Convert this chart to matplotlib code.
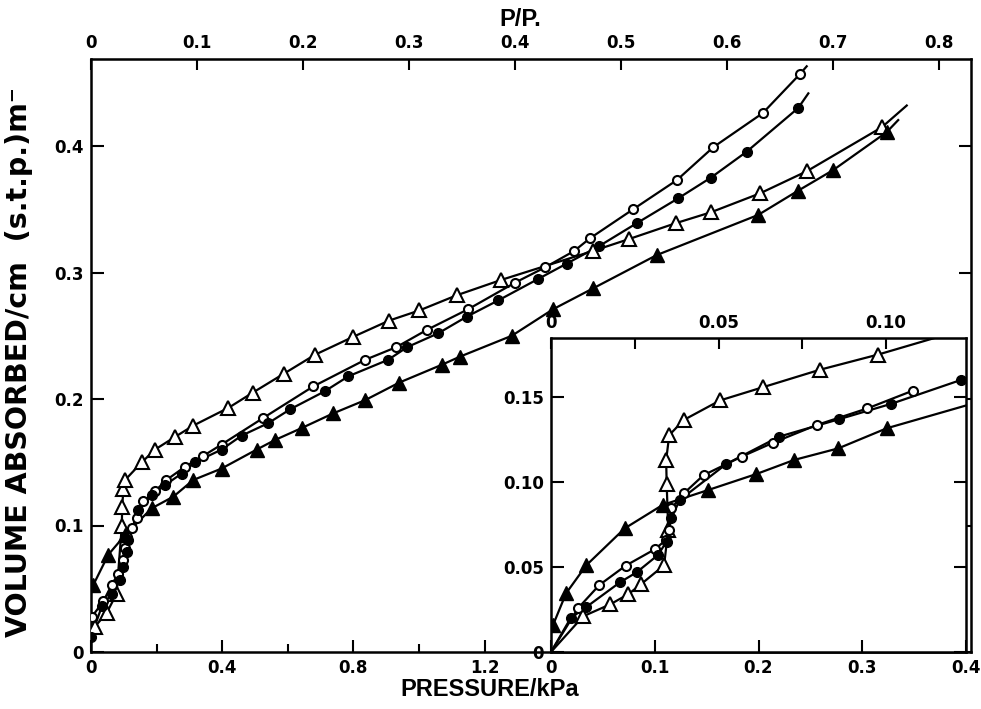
import matplotlib
matplotlib.use("Agg")
import matplotlib.pyplot as plt
from matplotlib import font_manager

names = {f.name for f in font_manager.fontManager.ttflist}
LABEL_FAMILY = ['Liberation Sans Narrow'] if 'Liberation Sans Narrow' in names else ['Liberation Sans']
LABEL_FAMILY = LABEL_FAMILY + ['DejaVu Sans']
plt.rcParams['font.family'] = ['DejaVu Sans']
plt.rcParams['font.weight'] = 'bold'

P0 = 3.23  # kPa, saturation pressure used for P/P0 axis

# ---------------- main plot data (pressure kPa, volume) ----------------
otri_p = [0.012, 0.048, 0.078, 0.094, 0.095, 0.099, 0.104, 0.155, 0.195, 0.256, 0.312, 0.419,
          0.493, 0.588, 0.683, 0.798, 0.909, 1.001, 1.115, 1.249, 1.530, 1.641, 1.783, 1.890,
          2.040, 2.182, 2.411]
otri_v = [0.020, 0.031, 0.046, 0.100, 0.115, 0.129, 0.136, 0.150, 0.160, 0.170, 0.179, 0.193,
          0.205, 0.220, 0.235, 0.249, 0.262, 0.270, 0.282, 0.294, 0.317, 0.3265, 0.339, 0.3476,
          0.3626, 0.380, 0.4148]
otri_tail = (2.487, 0.432)

ocir_p = [0.003, 0.0375, 0.063, 0.083, 0.0985, 0.104, 0.109, 0.124, 0.139, 0.160, 0.195, 0.230,
          0.287, 0.342, 0.398, 0.525, 0.678, 0.836, 0.931, 1.023, 1.150, 1.293, 1.384, 1.473,
          1.521, 1.653, 1.786, 1.897, 2.048, 2.162]
ocir_v = [0.028, 0.040, 0.053, 0.062, 0.073, 0.082, 0.091, 0.098, 0.106, 0.119, 0.127, 0.136,
          0.1465, 0.155, 0.164, 0.185, 0.210, 0.231, 0.241, 0.2545, 0.271, 0.292, 0.304, 0.317,
          0.327, 0.350, 0.373, 0.399, 0.426, 0.457]
ocir_tail = (2.182, 0.463)

fcir_p = [0.000, 0.033, 0.063, 0.088, 0.0985, 0.109, 0.114, 0.144, 0.185, 0.226, 0.276, 0.317,
          0.398, 0.459, 0.541, 0.608, 0.712, 0.785, 0.906, 0.964, 1.059, 1.145, 1.242, 1.364,
          1.450, 1.550, 1.664, 1.790, 1.890, 1.999, 2.156]
fcir_v = [0.012, 0.036, 0.046, 0.057, 0.0675, 0.079, 0.0885, 0.112, 0.124, 0.132, 0.141, 0.150,
          0.160, 0.171, 0.181, 0.192, 0.206, 0.218, 0.231, 0.241, 0.252, 0.265, 0.278, 0.295,
          0.307, 0.321, 0.339, 0.3586, 0.375, 0.3955, 0.430]
fcir_tail = (2.187, 0.4416)

ftri_p = [0.007, 0.053, 0.104, 0.185, 0.251, 0.312, 0.398, 0.505, 0.561, 0.642, 0.739, 0.835,
          0.940, 1.069, 1.125, 1.283, 1.409, 1.531, 1.725, 2.034, 2.156, 2.263, 2.426]
ftri_v = [0.053, 0.077, 0.0925, 0.1136, 0.1228, 0.136, 0.145, 0.160, 0.1676, 0.177, 0.1887, 0.199,
          0.213, 0.227, 0.2335, 0.250, 0.271, 0.2875, 0.3138, 0.3455, 0.3647, 0.381, 0.411]
ftri_tail = (2.461, 0.4205)

# ---------------- inset data (pressure kPa, volume) ----------------
in_otri_p = [0.031, 0.057, 0.0745, 0.087, 0.109, 0.113, 0.1115, 0.111, 0.114, 0.128, 0.163,
             0.204, 0.259, 0.3155]
in_otri_v = [0.021, 0.028, 0.034, 0.040, 0.051, 0.072, 0.0987, 0.113, 0.1276, 0.1365, 0.148,
             0.1557, 0.166, 0.175]
in_otri_tail = (0.3685, 0.1845)

in_ocir_p = [0.026, 0.0466, 0.072, 0.100, 0.111, 0.114, 0.116, 0.128, 0.147, 0.184, 0.2137,
             0.256, 0.305, 0.3486]
in_ocir_v = [0.0257, 0.0394, 0.0508, 0.0604, 0.066, 0.0718, 0.0845, 0.0933, 0.104, 0.115, 0.123,
             0.1335, 0.1433, 0.1537]

in_fcir_p = [0.019, 0.0337, 0.0665, 0.0826, 0.103, 0.1115, 0.116, 0.124, 0.169, 0.220, 0.278,
             0.328, 0.395]
in_fcir_v = [0.020, 0.0263, 0.041, 0.0469, 0.057, 0.065, 0.0786, 0.0894, 0.1106, 0.1267, 0.137,
             0.146, 0.160]

in_ftri_p = [0.002, 0.0145, 0.034, 0.071, 0.1076, 0.1516, 0.198, 0.2345, 0.277, 0.3236]
in_ftri_v = [0.0159, 0.0345, 0.051, 0.0727, 0.0865, 0.0953, 0.1047, 0.113, 0.1198, 0.1316]
in_ftri_tail = (0.400, 0.145)

# ---------------- tick labels ----------------
main_xticks = [0, 0.4, 0.8, 1.2]
main_xlabels = ['0', '0.4', '0.8', '1.2']
main_yticks = [0, 0.1, 0.2, 0.3, 0.4]
main_ylabels = ['0', '0.1', '0.2', '0.3', '0.4']
top_ticks = [0, 0.1, 0.2, 0.3, 0.4, 0.5, 0.6, 0.7, 0.8]
top_labels = ['0', '0.1', '0.2', '0.3', '0.4', '0.5', '0.6', '0.7', '0.8']
in_xticks = [0, 0.1, 0.2, 0.3, 0.4]
in_xlabels = ['0', '0.1', '0.2', '0.3', '0.4']
in_yticks = [0, 0.05, 0.10, 0.15]
in_ylabels = ['0', '0.05', '0.10', '0.15']
in_top_ticks = [0, 0.025, 0.05, 0.075, 0.10]
in_top_labels = ['0', '', '0.05', '', '0.10']

W, H = 981, 709
fig = plt.figure(figsize=(W / 100, H / 100), dpi=100)

LW = 1.6
SPW = 1.8
FS = 12

styles = {
    'otri': dict(marker='^', mfc='white', mec='black', ms=9.5, mew=1.5),
    'ocir': dict(marker='o', mfc='white', mec='black', ms=6.5, mew=1.5),
    'fcir': dict(marker='o', mfc='black', mec='black', ms=7, mew=1.0),
    'ftri': dict(marker='^', mfc='black', mec='black', ms=9.5, mew=1.0),
}


def draw(ax, p, v, key, tail=None, start_origin=False):
    lp, lv = list(p), list(v)
    if start_origin:
        lp = [0.0] + lp
        lv = [0.0] + lv
    if tail is not None:
        lp = lp + [tail[0]]
        lv = lv + [tail[1]]
    ax.plot(lp, lv, color='black', lw=LW, zorder=2)
    ax.plot(p, v, ls='none', zorder=3, **styles[key])


# ---------------- main axes ----------------
ax = fig.add_axes([91 / W, 1 - 652 / H, (971 - 91) / W, (652 - 59) / H])
draw(ax, otri_p, otri_v, 'otri', otri_tail)
draw(ax, ocir_p, ocir_v, 'ocir', ocir_tail)
draw(ax, fcir_p, fcir_v, 'fcir', fcir_tail)
draw(ax, ftri_p, ftri_v, 'ftri', ftri_tail)
ax.set_xlim(0, 880 / 328)
ax.set_ylim(0, 593 / 1265)
ax.set_xticks(main_xticks)
ax.set_xticklabels(main_xlabels)
ax.set_xticks([0.2, 0.6, 1.0], minor=True)
ax.set_yticks(main_yticks)
ax.set_yticklabels(main_ylabels)
ax.tick_params(axis='both', which='major', direction='in', length=9, width=1.5,
               labelsize=FS, pad=5)
ax.tick_params(axis='x', which='minor', direction='in', length=6, width=1.5)
ax.tick_params(axis='y', right=True)
for s in ax.spines.values():
    s.set_linewidth(SPW)

top = ax.secondary_xaxis('top', functions=(lambda p: p / P0, lambda r: r * P0))
top.set_xticks(top_ticks)
top.set_xticklabels(top_labels)
top.tick_params(direction='in', length=8, width=1.5, labelsize=FS, pad=5)

# axis titles
fig.text(490 / W, 1 - 690 / H, 'PRESSURE/kPa', ha='center', va='center',
         fontsize=17, fontweight='bold', family=LABEL_FAMILY)
fig.text(520 / W, 1 - 20 / H, 'P/P.', ha='center', va='center',
         fontsize=17, fontweight='bold', family=LABEL_FAMILY)
fig.text(19 / W, 1 - 362 / H, 'VOLUME ABSORBED/cm  (s.t.p.)m⁻', ha='center', va='center',
         rotation=90, fontsize=20.5, fontweight='bold', family=['DejaVu Sans'])

# ---------------- inset ----------------
ax_in = fig.add_axes([551 / W, 1 - 652 / H, 415 / W, (652 - 338) / H], zorder=5)
ax_in.set_facecolor('white')
draw(ax_in, in_otri_p, in_otri_v, 'otri', in_otri_tail, start_origin=True)
draw(ax_in, in_ocir_p, in_ocir_v, 'ocir', None, start_origin=True)
draw(ax_in, in_fcir_p, in_fcir_v, 'fcir', None, start_origin=True)
draw(ax_in, in_ftri_p, in_ftri_v, 'ftri', in_ftri_tail)
ax_in.set_xlim(0, 0.4)
ax_in.set_ylim(0, 314 / 1700)
ax_in.set_xticks(in_xticks)
ax_in.set_xticklabels(in_xlabels)
ax_in.set_yticks(in_yticks)
ax_in.set_yticklabels(in_ylabels)
ax_in.tick_params(axis='both', direction='in', length=9, width=1.5, labelsize=FS, pad=5)
ax_in.tick_params(axis='y', right=True)
for s in ax_in.spines.values():
    s.set_linewidth(SPW)

in_top = ax_in.secondary_xaxis('top', functions=(lambda p: p / P0, lambda r: r * P0))
in_top.set_xticks(in_top_ticks)
in_top.set_xticklabels(in_top_labels)
in_top.tick_params(direction='in', length=8, width=1.5, labelsize=FS, pad=4)

fig.savefig('out.png', dpi=100)
